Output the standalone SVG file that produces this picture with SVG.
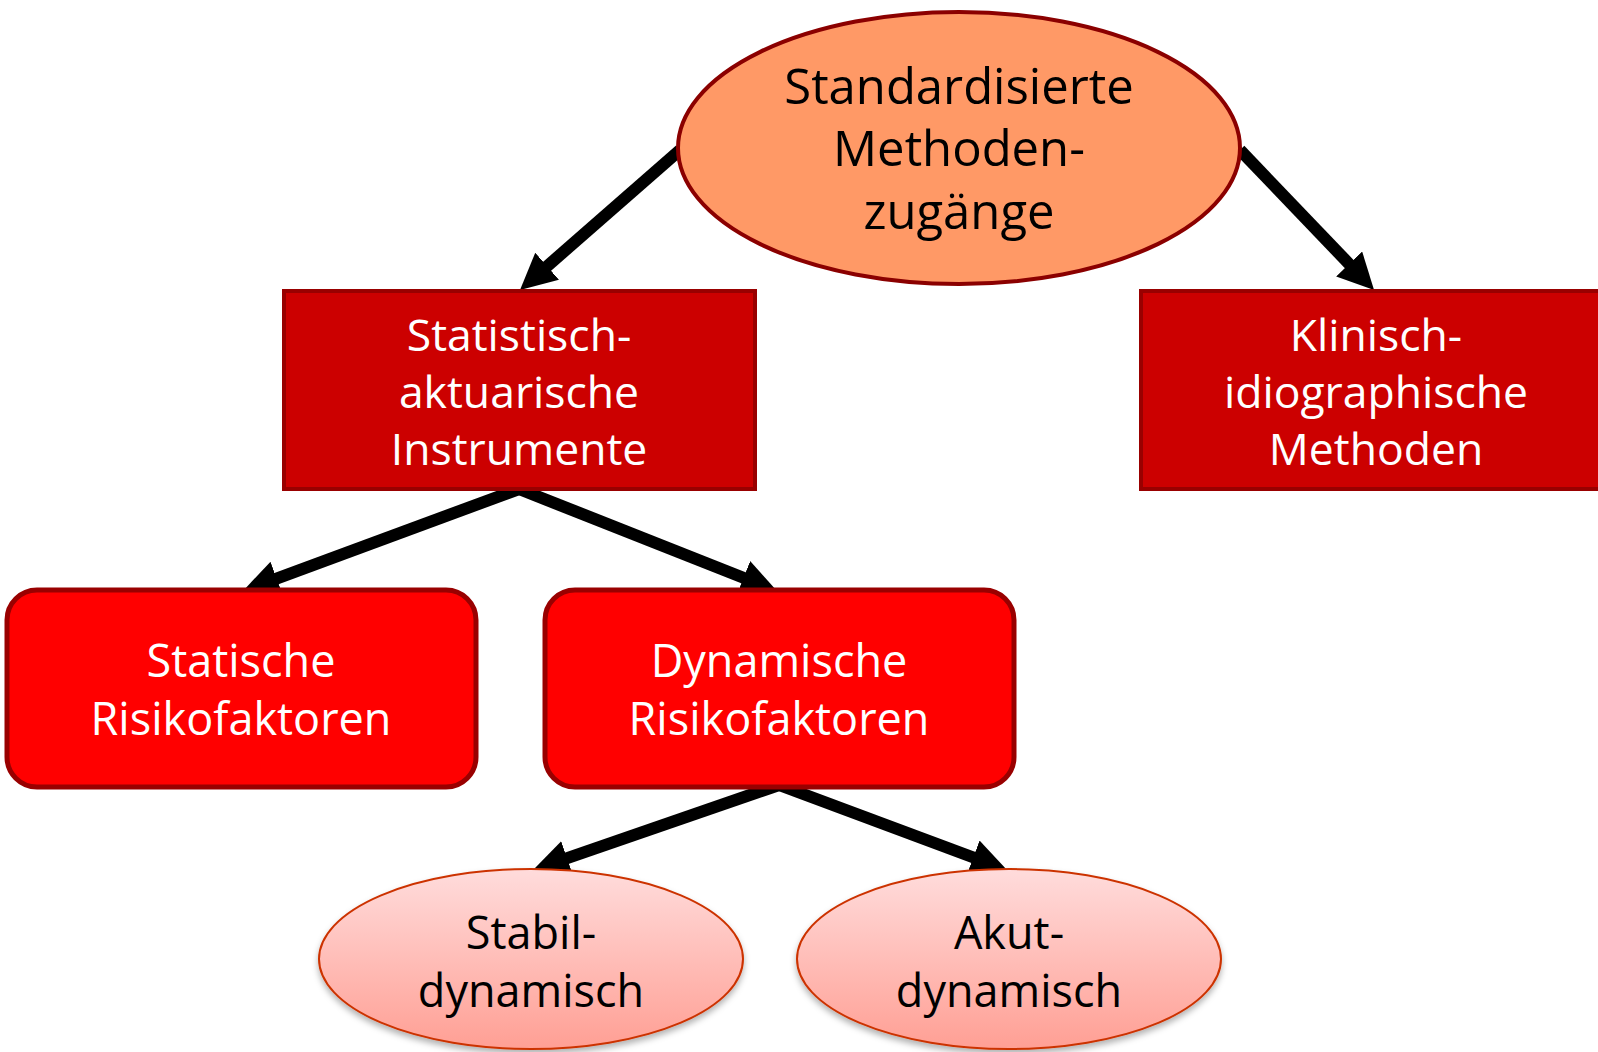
<svg xmlns="http://www.w3.org/2000/svg" width="1598" height="1052" viewBox="0 0 1598 1052">
<defs>
<marker id="arr" markerUnits="userSpaceOnUse" markerWidth="38" markerHeight="38" refX="6" refY="18" orient="auto" viewBox="0 0 38 38">
<path d="M0,0 L36,18 L0,36 Z" fill="#000"/>
</marker>
<linearGradient id="pink" x1="0" y1="0" x2="0" y2="1">
<stop offset="0" stop-color="#FFDCDC"/>
<stop offset="1" stop-color="#FF9F94"/>
</linearGradient>
<filter id="sh" x="-10%" y="-10%" width="120%" height="130%">
<feDropShadow dx="0" dy="4" stdDeviation="3" flood-color="#000" flood-opacity="0.3"/>
</filter>
<style>
.t{font-family:"Open Sans","Noto Sans","DejaVu Sans",sans-serif;text-anchor:middle}
.w{fill:#fff}
.k{fill:#000}
.box{fill:#CC0000;stroke:#990000;stroke-width:4}
.rbox{fill:#FF0000;stroke:#990000;stroke-width:5}
.pe{fill:url(#pink);stroke:#CC3300;stroke-width:2}
.c{stroke:#000;stroke-width:12;fill:none;marker-end:url(#arr)}
</style>
</defs>
<g id="connectors">
<line class="c" x1="680" y1="150" x2="542.6" y2="270.2"/>
<line class="c" x1="1240" y1="150" x2="1353.3" y2="268.3"/>
<line class="c" x1="519" y1="489" x2="271.1" y2="580.6"/>
<line class="c" x1="519" y1="489" x2="749.1" y2="580"/>
<line class="c" x1="779" y1="785" x2="561.4" y2="860.2"/>
<line class="c" x1="779" y1="785" x2="978.9" y2="859.5"/>
</g>
<g id="node-top">
<ellipse cx="959" cy="148" rx="281" ry="136" fill="#FF9966" stroke="#8B0000" stroke-width="4"/>
<text class="t k" font-size="49" x="959" y="104">Standardisierte</text>
<text class="t k" font-size="49" x="959" y="166">Methoden-</text>
<text class="t k" font-size="49" x="959" y="229">zugänge</text>
</g>
<g id="node-statistisch">
<rect class="box" x="284" y="291" width="471" height="198"/>
<text class="t w" font-size="44.5" x="519" y="351">Statistisch-</text>
<text class="t w" font-size="44.5" x="519" y="408">aktuarische</text>
<text class="t w" font-size="44.5" x="519" y="465">Instrumente</text>
</g>
<g id="node-klinisch">
<rect class="box" x="1141" y="291" width="470" height="198"/>
<text class="t w" font-size="44.5" x="1376" y="351">Klinisch-</text>
<text class="t w" font-size="44.5" x="1376" y="408">idiographische</text>
<text class="t w" font-size="44.5" x="1376" y="465">Methoden</text>
</g>
<g id="node-statische">
<rect class="rbox" x="7" y="590" width="469" height="197" rx="30" ry="30"/>
<text class="t w" font-size="45" x="241" y="677">Statische</text>
<text class="t w" font-size="45" x="241" y="735">Risikofaktoren</text>
</g>
<g id="node-dynamische">
<rect class="rbox" x="545" y="590" width="469" height="197" rx="30" ry="30"/>
<text class="t w" font-size="45" x="779" y="677">Dynamische</text>
<text class="t w" font-size="45" x="779" y="735">Risikofaktoren</text>
</g>
<g id="node-stabil">
<ellipse class="pe" cx="531" cy="959" rx="212" ry="90" filter="url(#sh)"/>
<text class="t k" font-size="45" x="531" y="949">Stabil-</text>
<text class="t k" font-size="45" x="531" y="1007">dynamisch</text>
</g>
<g id="node-akut">
<ellipse class="pe" cx="1009" cy="959" rx="212" ry="90" filter="url(#sh)"/>
<text class="t k" font-size="45" x="1009" y="949">Akut-</text>
<text class="t k" font-size="45" x="1009" y="1007">dynamisch</text>
</g>
</svg>
